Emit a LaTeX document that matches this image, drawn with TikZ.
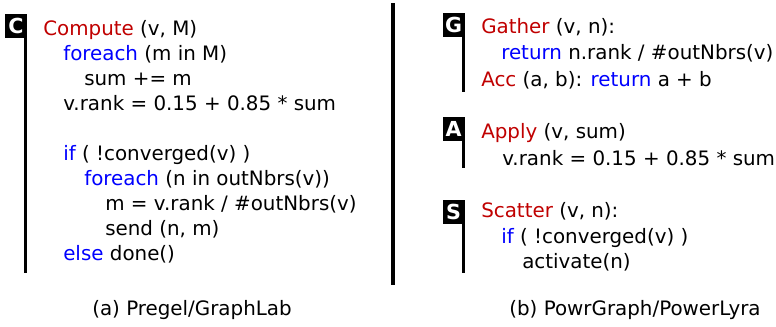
\documentclass[tikz,border=0pt]{standalone}
\usepackage{fontspec}
\setmainfont{DejaVu Sans}
\definecolor{kwred}{RGB}{192,0,0}
\definecolor{kwblue}{RGB}{0,0,255}
\newcommand{\rd}[1]{\textcolor{kwred}{#1}}
\newcommand{\bl}[1]{\textcolor{kwblue}{#1}}
\begin{document}
\begin{tikzpicture}[x=0.75pt,y=-0.75pt,
  code/.style={anchor=base west,inner sep=0pt,font=\fontsize{14.9}{17}\selectfont},
  tag/.style={fill=black,text=white,inner sep=0pt,minimum width=16.5pt,minimum height=18pt,font=\fontsize{15.5}{16}\selectfont\bfseries},
  vline/.style={line width=2.3pt},
  captext/.style={anchor=base,inner sep=0pt,font=\fontsize{14.9}{17}\selectfont}]
\useasboundingbox (0,0) rectangle (776,326);
% left panel
\node[tag] (C) at (16,26) {C};
\coordinate (cEnd) at (0,273);
\draw[vline] ([xshift=-1.15pt]C.south east) -- ([xshift=-1.15pt]C.south east |- cEnd);
\node[code] (l1) at (43,35) {\rd{Compute} (v, M)};
\node[code] (l2) at (63,60) {\bl{foreach} (m in M)};
\node[code] (l3) at (84,85) {sum += m};
\node[code] (l4) at (63,110) {v.rank = 0.15 + 0.85 * sum};
\node[code] (l5) at (63,160) {\bl{if} ( !converged(v) )};
\node[code] (l6) at (84,185) {\bl{foreach} (n in outNbrs(v))};
\node[code] (l7) at (105,210) {m = v.rank / \#outNbrs(v)};
\node[code] (l8) at (105,235) {send (n, m)};
\node[code] (l9) at (63,260) {\bl{else} done()};
\node[captext] (capa) at (192,315) {(a) Pregel/GraphLab};
% divider
\coordinate (dTop) at (393,3);
\coordinate (dBot) at (393,285);
\draw[vline] (dTop) -- (dBot);
% right panel
\node[tag] (G) at (453.5,25) {G};
\coordinate (gEnd) at (0,92);
\draw[vline] ([xshift=-1.15pt]G.south east) -- ([xshift=-1.15pt]G.south east |- gEnd);
\node[code] (r1) at (481,33) {\rd{Gather} (v, n):};
\node[code] (r2) at (501,59) {\bl{return} n.rank / \#outNbrs(v)};
\node[code] (r3) at (481,86) {\rd{Acc} (a, b): \bl{return} a + b};
\node[tag] (A) at (453.5,129) {A};
\coordinate (aEnd) at (0,168);
\draw[vline] ([xshift=-1.15pt]A.south east) -- ([xshift=-1.15pt]A.south east |- aEnd);
\node[code] (r4) at (481,138) {\rd{Apply} (v, sum)};
\node[code] (r5) at (502,165) {v.rank = 0.15 + 0.85 * sum};
\node[tag] (S) at (453.5,211.5) {S};
\coordinate (sEnd) at (0,273);
\draw[vline] ([xshift=-1.15pt]S.south east) -- ([xshift=-1.15pt]S.south east |- sEnd);
\node[code] (r6) at (481,217) {\rd{Scatter} (v, n):};
\node[code] (r7) at (501,243) {\bl{if} ( !converged(v) )};
\node[code] (r8) at (522,268) {activate(n)};
\node[captext] (capb) at (635,315) {(b) PowrGraph/PowerLyra};
\end{tikzpicture}
\end{document}
